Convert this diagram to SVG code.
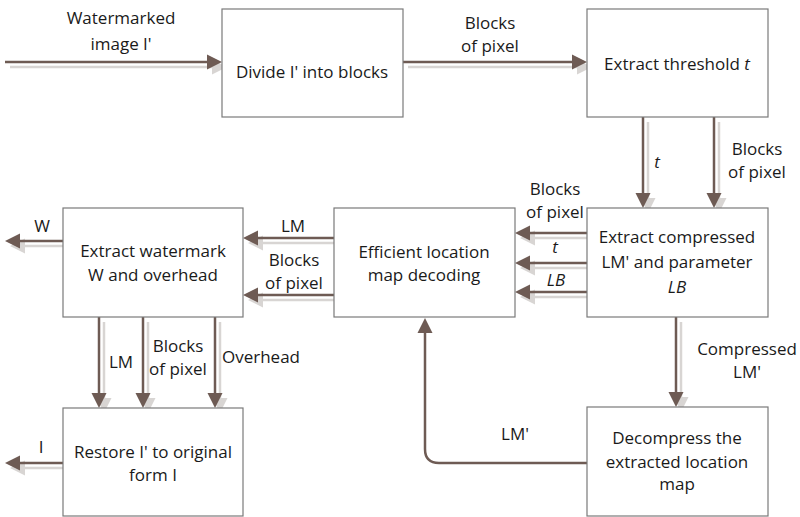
<svg xmlns="http://www.w3.org/2000/svg" width="800" height="517" viewBox="0 0 800 517">
<style>
.box{fill:#fff;stroke:#7a7a7a;stroke-width:1.2}
.t{font-family:"Open Sans","Noto Sans",sans-serif;font-size:17px;fill:#1a1a1a;text-anchor:middle}
.i{font-style:italic}
.m{fill:none;stroke:#6e5b54;stroke-width:2.5}
.s{fill:none;stroke:#d8d5d3;stroke-width:2.5}
</style>
<defs>
<marker id="hm" markerUnits="userSpaceOnUse" markerWidth="16" markerHeight="16" refX="7" refY="7.5" orient="auto" viewBox="0 0 16 15">
<path d="M0,0 L15,7.5 L0,15 z" fill="#6e5b54"/>
</marker>
<marker id="hs" markerUnits="userSpaceOnUse" markerWidth="16" markerHeight="16" refX="7" refY="7.5" orient="auto" viewBox="0 0 16 15">
<path d="M0,0 L15,7.5 L0,15 z" fill="#d8d5d3"/>
</marker>
</defs>
<rect width="800" height="517" fill="#fff"/>
<g id="connectors">
<g id="shadows" transform="translate(5,5)">
<path class="s" marker-end="url(#hs)" d="M5,62 H214"/>
<path class="s" marker-end="url(#hs)" d="M403,62 H579"/>
<path class="s" marker-end="url(#hs)" d="M643,117 V200"/>
<path class="s" marker-end="url(#hs)" d="M714,117 V200"/>
<path class="s" marker-end="url(#hs)" d="M587,233 H523"/>
<path class="s" marker-end="url(#hs)" d="M587,263 H523"/>
<path class="s" marker-end="url(#hs)" d="M587,292 H523"/>
<path class="s" marker-end="url(#hs)" d="M334,238 H251"/>
<path class="s" marker-end="url(#hs)" d="M334,295 H251"/>
<path class="s" marker-end="url(#hs)" d="M63,241 H13"/>
<path class="s" marker-end="url(#hs)" d="M63,463 H13"/>
<path class="s" marker-end="url(#hs)" d="M99,317 V400"/>
<path class="s" marker-end="url(#hs)" d="M143,317 V400"/>
<path class="s" marker-end="url(#hs)" d="M215,317 V400"/>
<path class="s" marker-end="url(#hs)" d="M676,317 V399"/>
</g>
<path class="m" marker-end="url(#hm)" d="M5,62 H214"/>
<path class="m" marker-end="url(#hm)" d="M403,62 H579"/>
<path class="m" marker-end="url(#hm)" d="M643,117 V200"/>
<path class="m" marker-end="url(#hm)" d="M714,117 V200"/>
<path class="m" marker-end="url(#hm)" d="M587,233 H523"/>
<path class="m" marker-end="url(#hm)" d="M587,263 H523"/>
<path class="m" marker-end="url(#hm)" d="M587,292 H523"/>
<path class="m" marker-end="url(#hm)" d="M334,238 H251"/>
<path class="m" marker-end="url(#hm)" d="M334,295 H251"/>
<path class="m" marker-end="url(#hm)" d="M63,241 H13"/>
<path class="m" marker-end="url(#hm)" d="M63,463 H13"/>
<path class="m" marker-end="url(#hm)" d="M99,317 V400"/>
<path class="m" marker-end="url(#hm)" d="M143,317 V400"/>
<path class="m" marker-end="url(#hm)" d="M215,317 V400"/>
<path class="m" marker-end="url(#hm)" d="M676,317 V399"/>
<path class="m" stroke-width="2" marker-end="url(#hm)" d="M587,463 H439 Q425,463 425,449 V326"/>
<g id="labels">
<text class="t" x="121" y="24">Watermarked</text>
<text class="t" x="121" y="50">image I'</text>
<text class="t" x="490" y="29">Blocks</text>
<text class="t" x="490" y="52">of pixel</text>
<text class="t i" x="657" y="168">t</text>
<text class="t" x="757" y="155">Blocks</text>
<text class="t" x="757" y="178">of pixel</text>
<text class="t" x="555" y="195">Blocks</text>
<text class="t" x="555" y="218">of pixel</text>
<text class="t i" x="555" y="253">t</text>
<text class="t i" x="556" y="286">LB</text>
<text class="t" x="293" y="232">LM</text>
<text class="t" x="294" y="266">Blocks</text>
<text class="t" x="294" y="289">of pixel</text>
<text class="t" x="42" y="232">W</text>
<text class="t" x="41" y="453">I</text>
<text class="t" x="121" y="368">LM</text>
<text class="t" x="178" y="352">Blocks</text>
<text class="t" x="178" y="375">of pixel</text>
<text class="t" x="261" y="363">Overhead</text>
<text class="t" x="747" y="355">Compressed</text>
<text class="t" x="747" y="378">LM'</text>
<text class="t" x="515" y="440">LM'</text>
</g>
</g>
<g id="divide">
<rect class="box" x="222" y="9" width="181" height="108"/>
<text class="t" x="312" y="78">Divide I' into blocks</text>
</g>
<g id="threshold">
<rect class="box" x="587" y="9" width="181" height="108"/>
<text class="t" x="677" y="70">Extract threshold <tspan class="i">t</tspan></text>
</g>
<g id="compressed">
<rect class="box" x="587" y="208" width="181" height="109"/>
<text class="t" x="677" y="243">Extract compressed</text>
<text class="t" x="677" y="268">LM' and parameter</text>
<text class="t i" x="677" y="293">LB</text>
</g>
<g id="efficient">
<rect class="box" x="334" y="208" width="181" height="109"/>
<text class="t" x="424" y="258">Efficient location</text>
<text class="t" x="424" y="281">map decoding</text>
</g>
<g id="watermark">
<rect class="box" x="63" y="208" width="180" height="109"/>
<text class="t" x="153" y="257">Extract watermark</text>
<text class="t" x="153" y="281">W and overhead</text>
</g>
<g id="restore">
<rect class="box" x="63" y="408" width="180" height="108"/>
<text class="t" x="153" y="458">Restore I' to original</text>
<text class="t" x="153" y="481">form I</text>
</g>
<g id="decompress">
<rect class="box" x="587" y="407" width="181" height="109"/>
<text class="t" x="677" y="444">Decompress the</text>
<text class="t" x="677" y="468">extracted location</text>
<text class="t" x="677" y="490">map</text>
</g>
</svg>
